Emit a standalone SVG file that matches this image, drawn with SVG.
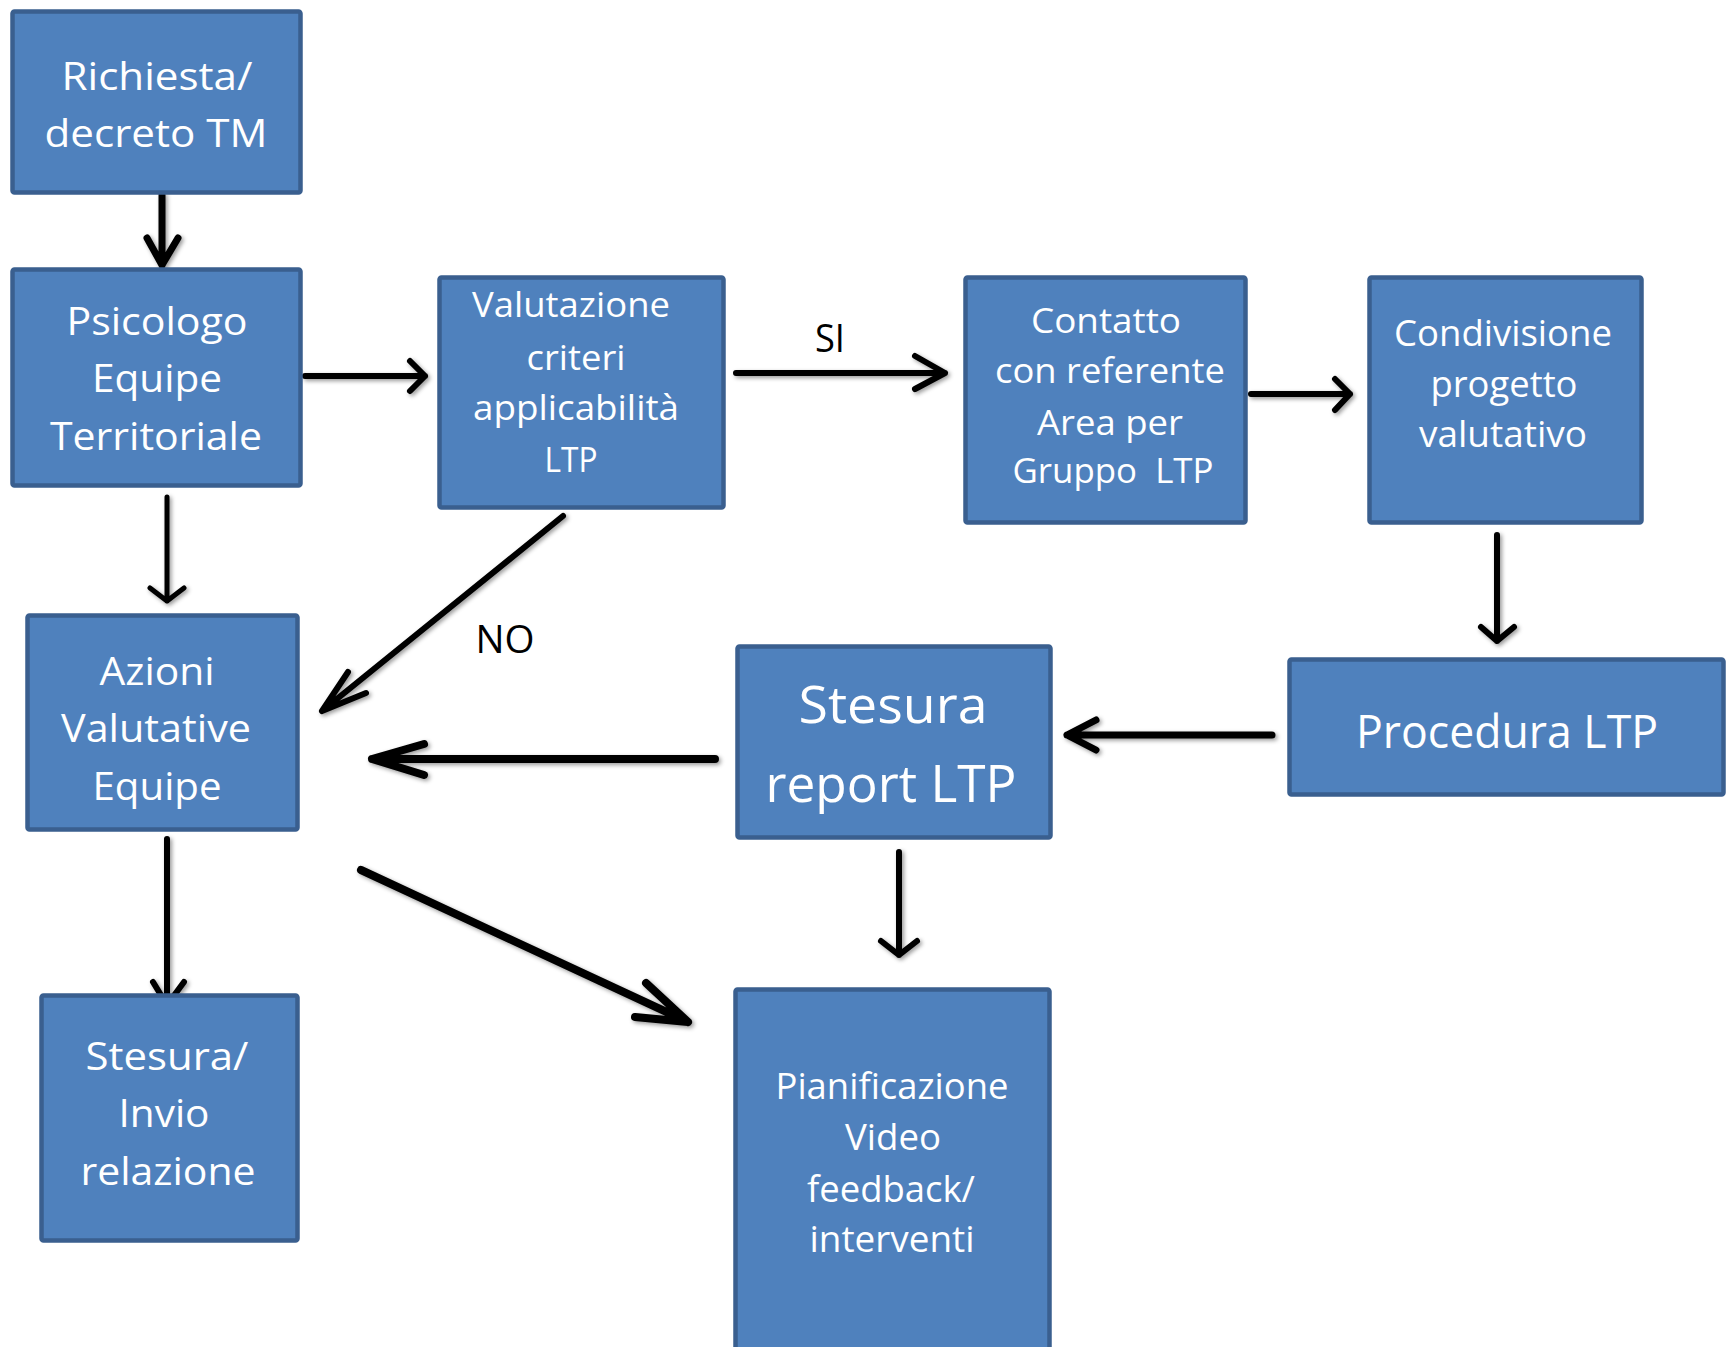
<svg xmlns="http://www.w3.org/2000/svg" width="1727" height="1347" viewBox="0 0 1727 1347">
<style>
.box{fill:#4F81BD;stroke:#3A5F8F;stroke-width:4.5}
.t{font-family:"Open Sans","Liberation Sans",sans-serif;fill:#FFFFFF;text-anchor:middle}
.lbl{font-family:"Open Sans","Liberation Sans",sans-serif;fill:#000000;text-anchor:middle;font-size:38px}
.ar{fill:none;stroke:#000000;stroke-linecap:round;stroke-linejoin:round}
</style>
<defs>
<filter id="sh" x="-20%" y="-20%" width="140%" height="140%">
<feDropShadow dx="2" dy="2" stdDeviation="2" flood-color="#000000" flood-opacity="0.4"/>
</filter>
</defs>
<rect width="1727" height="1347" fill="#FFFFFF"/>

<g id="connectors" filter="url(#sh)">
<path class="ar" stroke-width="7" d="M162,195 V265 M147,238 L162,265 L178,238"/>
<path class="ar" stroke-width="6" d="M305,376 H425 M410,361 L425,376 L410,391"/>
<path class="ar" stroke-width="5" d="M167,497 V601 M150,588 L167,601 L184,588"/>
<path class="ar" stroke-width="6" d="M736,373 H945 M915,356 L945,373 L915,389"/>
<path class="ar" stroke-width="6" d="M1251,394 H1350 M1335,379 L1350,394 L1335,410"/>
<path class="ar" stroke-width="6" d="M1497,535 V641 M1481,627 L1497,641 L1514,627"/>
<path class="ar" stroke-width="7" d="M1272,735 H1067 M1096,720 L1067,735 L1096,750"/>
<path class="ar" stroke-width="8" d="M715,759 H372 M424,744 L372,759 L424,775"/>
<path class="ar" stroke-width="6" d="M563,516 L322,711 M348,672 L322,711 L366,693"/>
<path class="ar" stroke-width="6" d="M167,839 V1005 M153,982 L167,1005 L184,982"/>
<path class="ar" stroke-width="8" d="M361,870 L688,1022 M646,983 L688,1022 L635,1017"/>
<path class="ar" stroke-width="6" d="M899,852 V955 M881,941 L899,955 L917,941"/>
</g>
<text class="lbl" x="830" y="352" textLength="30" lengthAdjust="spacingAndGlyphs">SI</text>
<text class="lbl" x="505" y="653" textLength="59" lengthAdjust="spacingAndGlyphs">NO</text>

<g id="n1">
<rect class="box" x="12.5" y="11.5" width="288" height="181" rx="2"/>
<text class="t" font-size="39" x="157" y="90" textLength="191" lengthAdjust="spacingAndGlyphs">Richiesta/</text>
<text class="t" font-size="39" x="156" y="147" textLength="223" lengthAdjust="spacingAndGlyphs">decreto TM</text>
</g>
<g id="n2">
<rect class="box" x="12.5" y="269.5" width="288" height="216" rx="2"/>
<text class="t" font-size="39" x="157" y="335" textLength="181" lengthAdjust="spacingAndGlyphs">Psicologo</text>
<text class="t" font-size="39" x="157" y="392" textLength="130" lengthAdjust="spacingAndGlyphs">Equipe</text>
<text class="t" font-size="39" x="156" y="450" textLength="212" lengthAdjust="spacingAndGlyphs">Territoriale</text>
</g>
<g id="n3">
<rect class="box" x="439.5" y="277.5" width="284" height="230" rx="2"/>
<text class="t" font-size="35" x="571" y="317" textLength="198" lengthAdjust="spacingAndGlyphs">Valutazione</text>
<text class="t" font-size="35" x="576" y="370" textLength="99" lengthAdjust="spacingAndGlyphs">criteri</text>
<text class="t" font-size="35" x="576" y="420" textLength="206" lengthAdjust="spacingAndGlyphs">applicabilità</text>
<text class="t" font-size="35" x="571" y="472" textLength="53" lengthAdjust="spacingAndGlyphs">LTP</text>
</g>
<g id="n4">
<rect class="box" x="965.5" y="277.5" width="280" height="245" rx="2"/>
<text class="t" font-size="35" x="1106" y="333" textLength="150" lengthAdjust="spacingAndGlyphs">Contatto</text>
<text class="t" font-size="35" x="1110" y="383" textLength="230" lengthAdjust="spacingAndGlyphs">con referente</text>
<text class="t" font-size="35" x="1110" y="435" textLength="146" lengthAdjust="spacingAndGlyphs">Area per</text>
<text class="t" font-size="35" x="1113" y="483" textLength="201" lengthAdjust="spacingAndGlyphs" xml:space="preserve">Gruppo  LTP</text>
</g>
<g id="n5">
<rect class="box" x="1369.5" y="277.5" width="272" height="245" rx="2"/>
<text class="t" font-size="36" x="1503" y="346" textLength="218" lengthAdjust="spacingAndGlyphs">Condivisione</text>
<text class="t" font-size="36" x="1504" y="397" textLength="147" lengthAdjust="spacingAndGlyphs">progetto</text>
<text class="t" font-size="36" x="1503" y="447" textLength="168" lengthAdjust="spacingAndGlyphs">valutativo</text>
</g>
<g id="n6">
<rect class="box" x="27.5" y="615.5" width="270" height="214" rx="2"/>
<text class="t" font-size="39" x="157" y="685" textLength="115" lengthAdjust="spacingAndGlyphs">Azioni</text>
<text class="t" font-size="39" x="156" y="742" textLength="190" lengthAdjust="spacingAndGlyphs">Valutative</text>
<text class="t" font-size="39" x="157" y="800" textLength="129" lengthAdjust="spacingAndGlyphs">Equipe</text>
</g>
<g id="n7">
<rect class="box" x="737.5" y="646.5" width="313" height="191" rx="2"/>
<text class="t" font-size="52" x="893" y="723" textLength="189" lengthAdjust="spacingAndGlyphs">Stesura</text>
<text class="t" font-size="52" x="891" y="802" textLength="251" lengthAdjust="spacingAndGlyphs">report LTP</text>
</g>
<g id="n8">
<rect class="box" x="1289.5" y="659.5" width="434" height="135" rx="2"/>
<text class="t" font-size="46" x="1507" y="748" textLength="302" lengthAdjust="spacingAndGlyphs">Procedura LTP</text>
</g>
<g id="n9">
<rect class="box" x="41.5" y="995.5" width="256" height="245" rx="2"/>
<text class="t" font-size="39" x="167" y="1070" textLength="163" lengthAdjust="spacingAndGlyphs">Stesura/</text>
<text class="t" font-size="39" x="164" y="1127" textLength="91" lengthAdjust="spacingAndGlyphs">Invio</text>
<text class="t" font-size="39" x="168" y="1185" textLength="175" lengthAdjust="spacingAndGlyphs">relazione</text>
</g>
<g id="n10">
<rect class="box" x="735.5" y="989.5" width="314" height="370" rx="2"/>
<text class="t" font-size="36" x="892" y="1099" textLength="233" lengthAdjust="spacingAndGlyphs">Pianificazione</text>
<text class="t" font-size="36" x="893" y="1150" textLength="96" lengthAdjust="spacingAndGlyphs">Video</text>
<text class="t" font-size="36" x="891" y="1202" textLength="168" lengthAdjust="spacingAndGlyphs">feedback/</text>
<text class="t" font-size="36" x="892" y="1252" textLength="165" lengthAdjust="spacingAndGlyphs">interventi</text>
</g>
</svg>
